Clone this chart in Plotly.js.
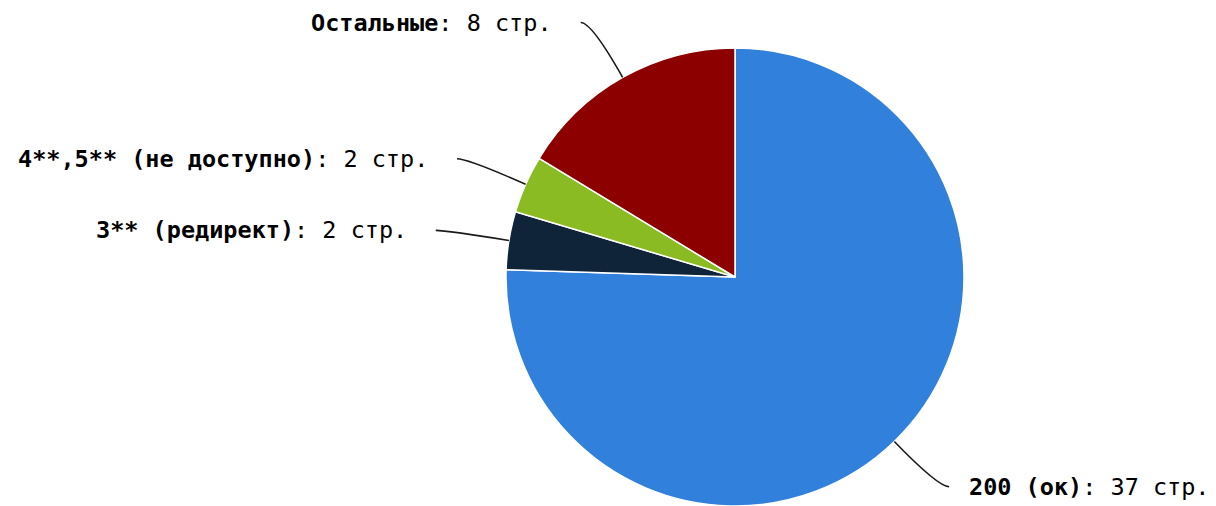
<!DOCTYPE html>
<html><head><meta charset="utf-8">
<script src="https://cdn.plot.ly/plotly-3.0.1.min.js"></script>
<style>html,body{margin:0;padding:0;background:#fff}#chart{width:1216px;height:506px}</style>
</head><body><div id="chart"></div>
<script>
const labels = ['200 (ок)', '3** (редирект)', '4**,5** (не доступно)', 'Остальные'];
const values = [37, 2, 2, 8];
const unit = 'стр.';
const colors = ['#3180db', '#0f2339', '#8bbb22', '#8c0000'];

const W = 1216, H = 506, cx = 735, cy = 277, r = 229;
const total = values.reduce((a, b) => a + b, 0);
const shapes = [], annotations = [];
let cum = 0;
const px = x => x / W, py = y => 1 - y / H;
values.forEach((v, i) => {
  const th = (cum + v / 2) / total * 2 * Math.PI;
  cum += v;
  const dx = Math.sin(th), dy = -Math.cos(th);
  const p0 = [cx + r * dx, cy + r * dy];
  const R2 = r + 63;
  const lx = cx + R2 * dx, ly = cy + R2 * dy;
  const side = dx >= 0 ? 1 : -1;
  const ex = lx + side * 11;
  const t = (ly - p0[1]) / dy;
  const c = [p0[0] + t * dx, ly];
  shapes.push({type: 'path', xref: 'paper', yref: 'paper',
    path: `M ${px(p0[0])},${py(p0[1])} Q ${px(c[0])},${py(c[1])} ${px(ex)},${py(ly)}`,
    line: {color: '#1a1a1a', width: 1.6}});
  annotations.push({xref: 'paper', yref: 'paper', x: px(ex + (side > 0 ? 18 : -27)), y: py(ly),
    xanchor: side > 0 ? 'left' : 'right', yanchor: 'middle', showarrow: false,
    text: `<b>${labels[i]}</b>: ${values[i]} ${unit}`,
    font: {family: 'DejaVu Sans Mono', size: 23.5, color: '#000'}});
});

const trace = {
  type: 'pie', labels: labels, values: values, sort: false, direction: 'clockwise', rotation: 0,
  marker: {colors: colors, line: {color: '#ffffff', width: 1.5}},
  textinfo: 'none', hoverinfo: 'none',
  domain: {x: [(cx - r) / W, (cx + r) / W], y: [(H - cy - r) / H, (H - cy + r) / H]}
};
Plotly.newPlot('chart', [trace], {
  width: W, height: H, margin: {l: 0, r: 0, t: 0, b: 0},
  paper_bgcolor: '#fff', showlegend: false, shapes: shapes, annotations: annotations
}, {displayModeBar: false, staticPlot: true});
</script></body></html>
